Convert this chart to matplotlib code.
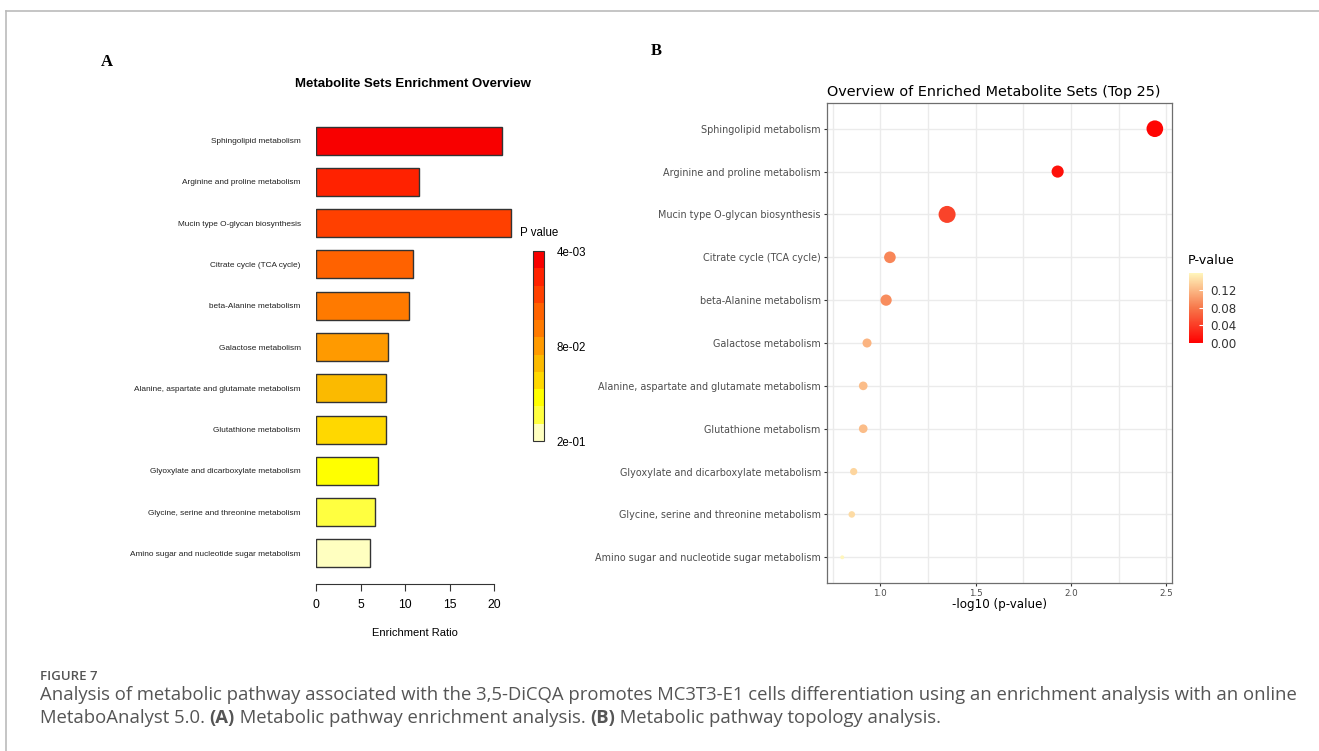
import numpy as np
import matplotlib
matplotlib.use("Agg")
import matplotlib.pyplot as plt
from matplotlib.colors import ListedColormap, LinearSegmentedColormap, Normalize
from matplotlib.cm import ScalarMappable

# pathway names (top to bottom)
pathways = [
    "Sphingolipid metabolism",
    "Arginine and proline metabolism",
    "Mucin type O-glycan biosynthesis",
    "Citrate cycle (TCA cycle)",
    "beta-Alanine metabolism",
    "Galactose metabolism",
    "Alanine, aspartate and glutamate metabolism",
    "Glutathione metabolism",
    "Glyoxylate and dicarboxylate metabolism",
    "Glycine, serine and threonine metabolism",
    "Amino sugar and nucleotide sugar metabolism",
]
enrich_ratio = [20.9, 11.6, 21.9, 10.9, 10.4, 8.1, 7.8, 7.8, 6.9, 6.6, 6.0]
neg_log_p = [2.44, 1.93, 1.35, 1.05, 1.03, 0.93, 0.91, 0.91, 0.86, 0.85, 0.80]
bar_colors = ["#F80000", "#FF2200", "#FF4000", "#FF6200", "#FF7A00", "#FF9A00",
              "#FBBA00", "#FFD800", "#FFFF00", "#FFFF40", "#FFFFC0"]
cbar_a_labels = ["4e-03", "8e-02", "2e-01"]
cbar_b_ticks = [0.00, 0.04, 0.08, 0.12]
xticks_a = [0, 5, 10, 15, 20]
xticks_b = [1.0, 1.5, 2.0, 2.5]

p_values = 10 ** (-np.array(neg_log_p))
W, H = 1319, 751
fig = plt.figure(figsize=(W / 100, H / 100), dpi=100)


def rect(x0, y0, x1, y1):
    # pixel box (top-left origin) -> figure fraction
    return [x0 / W, 1 - y1 / H, (x1 - x0) / W, (y1 - y0) / H]


# frame around the figure
fig.add_artist(plt.Line2D([6 / W, 1], [1 - 11 / H] * 2, color="#BBBBBB", lw=1.2))
fig.add_artist(plt.Line2D([6 / W] * 2, [0, 1 - 11 / H], color="#BBBBBB", lw=1.2))

# ---------------- Panel A ----------------
axA = fig.add_axes(rect(316, 120, 514, 574))
y = np.arange(len(pathways))
axA.barh(y, enrich_ratio, height=0.68, color=bar_colors, edgecolor="#333333", linewidth=1.0)
axA.set_ylim(len(pathways) - 0.5, -0.5)
axA.set_xlim(0, 22.2)
for s in ["top", "right", "left"]:
    axA.spines[s].set_visible(False)
axA.spines["bottom"].set_position(("outward", 7))
axA.spines["bottom"].set_bounds(0, 20)
axA.spines["bottom"].set_color("#333333")
axA.set_xticks(xticks_a)
axA.tick_params(axis="x", length=5, color="#333333", labelsize=8.7, pad=6)
axA.set_yticks(y)
axA.set_yticklabels(pathways, fontsize=5.95, color="#222222")
axA.tick_params(axis="y", length=0, pad=11)
for t in axA.get_xticklabels() + axA.get_yticklabels():
    t.set_family("Liberation Sans")
axA.set_xlabel("Enrichment Ratio", fontsize=8, family="Liberation Sans", labelpad=12)
fig.text(412.5 / W, 1 - 84 / H, "Metabolite Sets Enrichment Overview", ha="center", va="center",
         fontsize=9.5, fontweight="bold", family="Liberation Sans")
fig.text(107 / W, 1 - 62 / H, "A", ha="center", va="center", fontsize=12,
         fontweight="bold", family="Liberation Serif")

caxA = fig.add_axes(rect(533, 251, 544, 441))
cmapA = ListedColormap(bar_colors[::-1])
cbA = fig.colorbar(ScalarMappable(norm=Normalize(0, len(bar_colors)), cmap=cmapA), cax=caxA)
cbA.set_ticks([len(bar_colors), len(bar_colors) / 2, 0])
cbA.set_ticklabels(cbar_a_labels)
cbA.outline.set_edgecolor("#333333")
cbA.outline.set_linewidth(0.8)
caxA.tick_params(length=0, labelsize=8.3, pad=9)
for t in caxA.get_yticklabels():
    t.set_family("Liberation Sans")
fig.text(520 / W, 1 - 233 / H, "P value", ha="left", va="center", fontsize=8.3,
         family="Liberation Sans")

# ---------------- Panel B ----------------
axB = fig.add_axes(rect(827, 103, 1172, 583))
cmapB = LinearSegmentedColormap.from_list("pv", ["#FF0000", "#F7774A", "#FFF6BC"])
normB = Normalize(0, p_values.max())
ers = np.array(enrich_ratio)
sizes = 8 + (150 - 8) * ((ers - ers.min()) / (ers.max() - ers.min())) ** 0.7
axB.scatter(neg_log_p, y, s=sizes, c=p_values, cmap=cmapB, norm=normB, zorder=3, linewidths=0)
axB.set_ylim(len(pathways) - 0.4, -0.6)
axB.set_xlim(0.72, 2.53)
axB.set_xticks(xticks_b)
axB.set_xticks([0.75, 1.25, 1.75, 2.25], minor=True)
axB.grid(True, which="both", color="#EBEBEB", linewidth=1.0, zorder=0)
axB.set_axisbelow(True)
for s in axB.spines.values():
    s.set_color("#6E6E6E")
    s.set_linewidth(0.9)
axB.set_yticks(y)
axB.set_yticklabels(pathways, fontsize=6.9, color="#4D4D4D")
axB.tick_params(axis="y", length=2.5, color="#333333", pad=2)
axB.tick_params(axis="x", which="major", length=2.5, color="#333333", labelsize=6.3,
                labelcolor="#4D4D4D", pad=2)
axB.tick_params(axis="x", which="minor", length=0)
axB.set_xlabel("-log10 (p-value)", fontsize=8.6, labelpad=0)
axB.set_title("Overview of Enriched Metabolite Sets (Top 25)", loc="left", fontsize=10.4,
              pad=5)
fig.text(656 / W, 1 - 51 / H, "B", ha="center", va="center", fontsize=12,
         fontweight="bold", family="Liberation Serif")

caxB = fig.add_axes(rect(1189, 273, 1203, 343))
cbB = fig.colorbar(ScalarMappable(norm=normB, cmap=cmapB), cax=caxB)
cbB.set_ticks(cbar_b_ticks)
cbB.set_ticklabels([f"{v:.2f}" for v in cbar_b_ticks])
cbB.outline.set_visible(False)
caxB.tick_params(length=3, color="white", direction="in", labelsize=8.6,
                 labelcolor="#333333", pad=5)
fig.text(1188 / W, 1 - 260 / H, "P-value", ha="left", va="center", fontsize=9.2)

# ---------------- caption ----------------
cap_font = dict(family="Open Sans", color="#555555")
cap_size = 13.3
fig.text(40 / W, 1 - 676 / H, "FIGURE 7", ha="left", va="center", fontsize=9.5,
         fontweight="semibold", **cap_font)
fig.text(40 / W, 1 - 695 / H,
         "Analysis of metabolic pathway associated with the 3,5-DiCQA promotes MC3T3-E1 cells "
         "differentiation using an enrichment analysis with an online",
         ha="left", va="center", fontsize=cap_size, **cap_font)

fig.canvas.draw()
renderer = fig.canvas.get_renderer()
pieces = [("MetaboAnalyst 5.0. ", "normal"), ("(A)", "bold"),
          (" Metabolic pathway enrichment analysis. ", "normal"), ("(B)", "bold"),
          (" Metabolic pathway topology analysis.", "normal")]
xpos = 40
for txt, wt in pieces:
    t = fig.text(xpos / W, 1 - 718 / H, txt, ha="left", va="center", fontsize=cap_size,
                 fontweight=wt, **cap_font)
    xpos += t.get_window_extent(renderer).width

fig.savefig("out.png", dpi=100)
